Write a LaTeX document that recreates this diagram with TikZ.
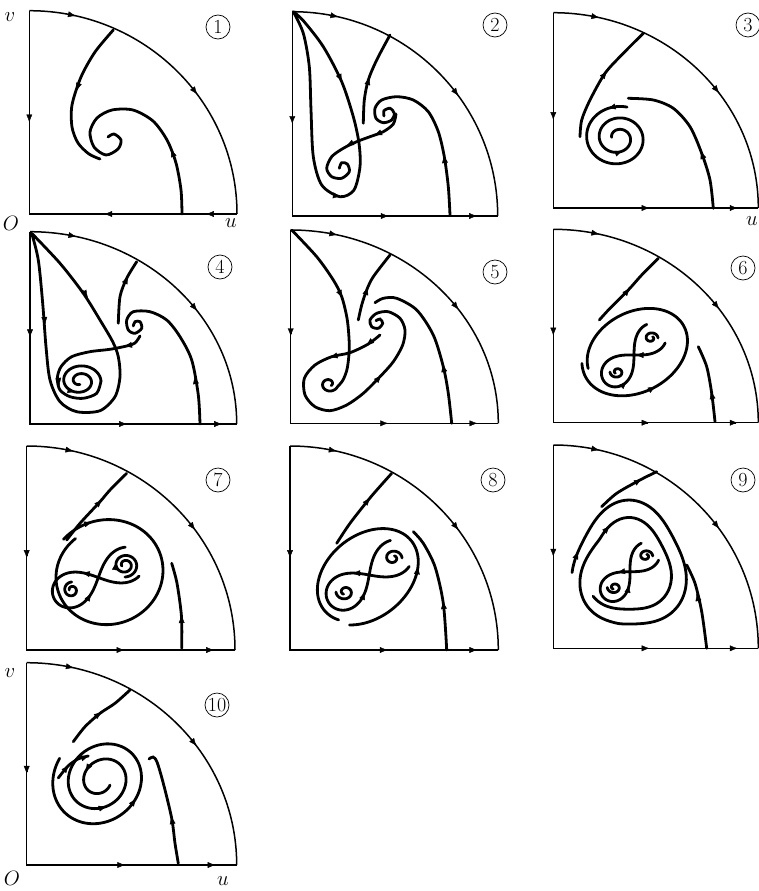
\documentclass[tikz,border=0pt]{standalone}
\usepackage{tikz}
\usetikzlibrary{arrows.meta}
\tikzset{
  frame/.style={line width=1.5pt},
  traj/.style={line width=2.8pt, line cap=round},
  tip/.style={-{Latex[length=8pt,width=6pt]}, line width=0.4pt},
  panelno/.style={circle, draw, line width=0.7pt, inner sep=0pt, minimum size=24pt,
      font=\fontsize{20}{20}\selectfont},
  axlabel/.style={inner sep=0pt, font=\fontsize{21}{21}\selectfont},
}
% frame of one quadrant: corner O=(#1,#2), width #3, height #4,
% bottom arrows in direction #5 at fractions #6 and #7
\newcommand{\quadrant}[7]{%
  \draw[frame] (#1,#2-#4) -- (#1,#2) -- ({#1+#3},#2);
  \draw[frame] (#1,#2-#4) arc[start angle=90, end angle=0, x radius=#3pt, y radius=#4pt];
  \draw[tip] (#1,{#2-0.45*#4-2}) -- (#1,{#2-0.45*#4});
  \draw[tip] ({#1+#6*#3-2*#5},#2) -- ({#1+#6*#3},#2);
  \draw[tip] ({#1+#7*#3-2*#5},#2) -- ({#1+#7*#3},#2);
  \draw[tip] ({#1+#3*cos(79)},{#2-#4*sin(79)}) -- ({#1+#3*cos(77)},{#2-#4*sin(77)});
  \draw[tip] ({#1+#3*cos(38)},{#2-#4*sin(38)}) -- ({#1+#3*cos(36)},{#2-#4*sin(36)});
}
% spiral: centre #1, radii #2 #3, tilt #4, r from #5 to #6, angle from #7 to #8
\newcommand{\setspiral}[8]{%
  \def\spO{#1}%
  \pgfmathsetmacro{\spc}{cos(#4)}\pgfmathsetmacro{\sps}{sin(#4)}%
  \pgfmathsetmacro{\spR}{#5}\pgfmathsetmacro{\spD}{(#6)-(#5)}%
  \pgfmathsetmacro{\spA}{#7}\pgfmathsetmacro{\spB}{(#8)-(#7)}%
  \def\curvex##1{((\spR+\spD*(##1))*(#2*cos(\spA+\spB*(##1))*\spc+#3*sin(\spA+\spB*(##1))*\sps))}%
  \def\curvey##1{((\spR+\spD*(##1))*(#3*sin(\spA+\spB*(##1))*\spc-#2*cos(\spA+\spB*(##1))*\sps))}}
% figure eight: centre #1, size #2, tilt #3
\newcommand{\setlemni}[3]{%
  \def\spO{#1}%
  \pgfmathsetmacro{\spc}{cos(#3)}\pgfmathsetmacro{\sps}{sin(#3)}%
  \def\curvex##1{(#2*(cos(25+310*(##1))*\spc+sin(25+310*(##1))*cos(25+310*(##1))*\sps)/(1+sin(25+310*(##1))*sin(25+310*(##1))))}%
  \def\curvey##1{(#2*(sin(25+310*(##1))*cos(25+310*(##1))*\spc-cos(25+310*(##1))*\sps)/(1+sin(25+310*(##1))*sin(25+310*(##1))))}}
\newcommand{\drawcurve}{%
  \begin{scope}[shift={(\spO)}]
  \draw[traj] plot[variable=\s, domain=0:1, samples=150, smooth] ({\curvex{\s}},{\curvey{\s}});
  \end{scope}}
\newcommand{\curvearrow}[1]{%
  \begin{scope}[shift={(\spO)}]
  \draw[tip] ({\curvex{#1-0.012}},{\curvey{#1-0.012}}) -- ({\curvex{#1}},{\curvey{#1}});
  \end{scope}}

\begin{document}
\begin{tikzpicture}[x=1pt, y=-1pt]
  \useasboundingbox (0,0) rectangle (759,891);
  \fill[white] (0,0) rectangle (759,891);

  % axis labels
  \node[axlabel] (v1) at (10,17) {$v$};
  \node[axlabel] (o1) at (11,223) {$O$};
  \node[axlabel] (u1) at (231,223) {$u$};
  \node[axlabel] (u3) at (752,221) {$u$};
  \node[axlabel] (v10) at (10,673) {$v$};
  \node[axlabel] (o10) at (12,878) {$O$};
  \node[axlabel] (u10) at (223,881) {$u$};

  % panel numbers
  \node[panelno] (n1) at (218,27) {1};
  \node[panelno] (n2) at (495,25) {2};
  \node[panelno] (n3) at (748,25) {3};
  \node[panelno] (n4) at (220,267) {4};
  \node[panelno] (n5) at (495,272) {5};
  \node[panelno] (n6) at (743,268) {6};
  \node[panelno] (n7) at (218,480) {7};
  \node[panelno] (n8) at (493,480) {8};
  \node[panelno] (n9) at (743,480) {9};
  \node[panelno] (n10) at (217,705) {10};

  % ---- panel 1
  \quadrant{29.3}{214}{207.7}{203.3}{-1}{0.36}{0.85}
  \draw[traj] plot[smooth] coordinates {(113.3,30) (95,52) (81,77) (72,105) (72,127) (78,143) (89,154) (100,159)};
  \draw[tip] (79,83) -- (76.5,91);
  \draw[traj] plot[smooth] coordinates {(182,214) (181,190) (176,163) (167,140) (153,121) (133,110) (112,110) (97,118) (90,132) (94,147) (106,155) (118,149) (121,140) (114,134) (108,137)};
  \draw[tip] (174,157) -- (171,149);

  % ---- panel 2
  \quadrant{292.3}{216}{205.4}{204.3}{1}{0.47}{0.9}
  \draw[traj] plot[smooth] coordinates {(293.3,11.7) (303.3,33.3) (309.3,66.7) (311,110) (313.3,156.7) (321.7,185) (340,196.7) (354,190) (360,166.7) (359,143.3) (353.3,116.7) (341.7,81.7) (323.3,46.7) (303.3,20.7) (293.3,11.7)};
  \draw[tip] (334,195.5) -- (341,196.5);
  \draw[tip] (337,71) -- (342,82);
  \draw[traj] plot[smooth] coordinates {(390,35) (376.7,60) (368.3,80) (364.3,100) (363.3,123.3)};
  \draw[tip] (367,86) -- (369.5,77);
  \draw[traj] plot[smooth] coordinates {(450,215) (448.3,186.7) (444.3,156.7) (438.3,131.7) (428.3,111.7) (413.3,100) (396.7,96.7) (381.7,100) (375,108.3) (376,118.3) (383.3,122.7) (391.7,120) (394.3,113.3) (390,108.3) (384,110.7) (384,116)};
  \draw[tip] (445,163) -- (443.8,155);
  \draw[traj] plot[smooth] coordinates {(396,114) (393.3,124) (383.3,131.7) (370,136.7) (356.7,141.7) (343.3,148.3) (331.7,156.7) (326.7,168.3) (331.7,176.7) (341.7,178.3) (349.3,171.7) (347.3,164) (341.7,162.7) (339.3,168.3)};
  \draw[tip] (382,132) -- (374,135.5);
  \draw[tip] (353,142.5) -- (346,146);

  % ---- panel 3
  \quadrant{553.3}{208}{205}{195.3}{1}{0.47}{0.9}
  \draw[traj] plot[smooth] coordinates {(643.3,33.3) (623.3,53.3) (605,73.3) (590,100) (581.7,120) (580,136.7)};
  \draw[tip] (601,79) -- (607,71);
  \draw[traj] plot[smooth] coordinates {(713.3,208.3) (710,180) (701.7,153.3) (690,126.7) (673.3,108.3) (653.3,100) (628.3,98.3)};
  \draw[tip] (704,160) -- (700.5,151);
  \setspiral{618,138}{35}{32}{0}{1}{0.18}{285}{-535}
  \drawcurve \curvearrow{0.04} \curvearrow{0.7}

  % ---- panel 4
  \quadrant{30}{424}{206.7}{192.3}{1}{0.47}{0.93}
  \draw[traj] plot[smooth] coordinates {(31.7,233.3) (38.3,260) (42.7,303.3) (46,346.7) (50,380) (60,401.7) (76.7,411.7) (100,410.7) (115,396.7) (120,376.7) (118.3,356.7) (112.7,341.7) (100,320) (83.3,293.3) (60,263.3) (31.7,233.3)};
  \draw[tip] (44.3,317) -- (45,325);
  \draw[tip] (83,290) -- (88,298);
  \draw[traj] plot[smooth] coordinates {(136.7,261.7) (126.7,278.3) (120,296.7) (118.3,323.3)};
  \draw[tip] (124,285) -- (128,276);
  \draw[traj] plot[smooth] coordinates {(200,424) (198.3,395) (191.7,360) (180,336.7) (166.7,320) (150,311.7) (133.3,311.7) (126.7,320) (128.3,330) (135,333.3) (141.7,328.3) (140,321.7) (135,321.7) (133.3,326)};
  \draw[tip] (196,384) -- (194.5,376);
  \draw[traj] plot[smooth] coordinates {(140,336) (135,343) (126.7,346) (110,349.3) (90,351.7) (71.7,356.7) (61,366.7) (57.3,378.3) (60,390) (70,396.7) (83.3,398.3) (96.7,393.3) (101,381)};
  \draw[tip] (131,345) -- (124,346.5);
  \draw[tip] (58,377) -- (59.5,386);
  \setspiral{80,381}{21}{17}{0}{1}{0.2}{0}{-630}
  \drawcurve \curvearrow{0.4}

  % ---- panel 5
  \quadrant{290.7}{423.3}{207.6}{193.3}{1}{0.47}{0.9}
  \draw[traj] plot[smooth] coordinates {(291.7,230) (316.7,256.7) (333.3,280) (341.7,296.7) (347.3,320) (349.3,346.7) (347.3,368) (343,380) (337.5,386.7)};
  \draw[tip] (338,289) -- (342.5,298);
  \setspiral{329,384}{9}{8}{0}{1}{0.3}{20}{400}
  \drawcurve
  \draw[traj] plot[smooth] coordinates {(380,335) (368.3,344) (350,352.7) (331.7,356.7) (315,365) (304.3,378.3) (305,395) (315,406.7) (330,410.7) (346.7,405) (363.3,393.3) (380,376.7) (393.3,361.7) (402.7,345) (405,330) (400,318.3) (388.3,311.7) (376.7,313.3) (370,320) (371.7,326.7) (378.3,328.3) (382.7,323.3) (380,319) (376,320.7)};
  \draw[tip] (373,340) -- (366,345.5);
  \draw[tip] (337,355.5) -- (329.5,357.5);
  \draw[tip] (373.5,384) -- (381.5,375);
  \draw[traj] plot[smooth] coordinates {(390,255) (373.3,276.7) (366.7,290) (361.7,305) (358.3,320)};
  \draw[tip] (364.5,297) -- (368,287);
  \draw[traj] plot[smooth] coordinates {(451.7,423.3) (448.3,393.3) (443.3,366.7) (433.3,335) (416.7,310) (396.7,298.3) (383.3,298.3) (375,302.7)};
  \draw[tip] (445,375) -- (442.5,364);

  % ---- panel 6
  \quadrant{553.3}{422.7}{205}{193.4}{1}{0.47}{0.9}
  \draw[traj] plot[smooth] coordinates {(658.3,258.3) (641.7,275) (628.3,290) (610,308.3) (599.3,320)};
  \draw[tip] (624,295) -- (630,288);
  \draw[traj] plot[smooth] coordinates {(715,421.7) (711.7,393.3) (706.7,366.7) (698.3,346.7)};
  \draw[tip] (713,401) -- (711,391);
  \setspiral{636,351}{57}{42}{28}{1}{0.9}{200}{-170}
  \drawcurve \curvearrow{0.3}
  \setlemni{634,355}{40}{44}
  \drawcurve \curvearrow{0.2} \curvearrow{0.62}
  \setspiral{651,338}{7}{6}{0}{1}{0.3}{0}{-400}
  \drawcurve
  \setspiral{617,372}{7}{6}{0}{1}{0.3}{180}{-220}
  \drawcurve

  % ---- panel 7
  \quadrant{26.7}{650}{208.3}{204}{1}{0.47}{0.9}
  \draw[traj] plot[smooth] coordinates {(126.7,473.3) (110,490) (100,501.7) (80,523.3) (66.7,540)};
  \draw[tip] (96,506) -- (102,499.5);
  \draw[traj] plot[smooth] coordinates {(181.7,648.3) (181.5,616.7) (177,583.3) (171.7,563.3)};
  \draw[tip] (181.7,624) -- (181.4,615);
  \setspiral{107.5,574}{59}{55}{20}{1}{0.86}{240}{610}
  \drawcurve \curvearrow{0.09}
  \setlemni{98.3,577.5}{49}{25}
  \drawcurve \curvearrow{0.3} \curvearrow{0.7}
  \setspiral{125,565}{13}{12}{0}{1}{0.25}{90}{-560}
  \drawcurve \curvearrow{0.5}
  \setspiral{71.7,590}{8}{8}{0}{1}{0.3}{270}{-180}
  \drawcurve

  % ---- panel 8
  \quadrant{290}{650}{208.3}{204}{1}{0.47}{0.9}
  \draw[traj] plot[smooth] coordinates {(391.7,473.3) (378.3,488.3) (368.3,500) (350,523.3) (336.7,543.3)};
  \draw[tip] (364,505.5) -- (370,497.5);
  \draw[traj] plot[smooth] coordinates {(446.7,650) (443.3,603.3) (435,566.7) (423.3,543.3) (413.3,531.7)};
  \draw[tip] (444.3,612) -- (443,601);
  \setspiral{367,576}{58}{42}{39}{1}{0.94}{140}{-205}
  \drawcurve \curvearrow{0.3}
  \setlemni{369.2,575}{49}{35}
  \drawcurve \curvearrow{0.3} \curvearrow{0.7}
  \setspiral{393,558}{9}{8}{0}{1}{0.3}{0}{-420}
  \drawcurve
  \setspiral{345,592}{9}{8}{0}{1}{0.3}{180}{-240}
  \drawcurve

  % ---- panel 9
  \quadrant{553.3}{648.3}{205}{203.3}{1}{0.47}{0.9}
  \draw[traj] plot[smooth] coordinates {(656.7,471.7) (640,480) (616.7,493.3) (601.7,506.7)};
  \draw[tip] (634,483.5) -- (642,479);
  \draw[traj] plot[smooth] coordinates {(706.7,648.3) (701.7,611.7) (695,583.3) (686.7,565)};
  \draw[tip] (699,603) -- (696.5,593);
  \def\spO{629,567}%
  \def\curvex#1{((1-0.26*min(max(5.75*(#1)-2.375,0),1))*(1+0.08*cos(3*(175+690*(#1))-810))*56*cos(175+690*(#1)))}%
  \def\curvey#1{((1-0.26*min(max(5.75*(#1)-2.375,0),1))*(1+0.08*cos(3*(175+690*(#1))-810))*62*sin(175+690*(#1)))}%
  \drawcurve \curvearrow{0.03} \curvearrow{0.62}
  \setlemni{630,571.7}{37}{45}
  \drawcurve \curvearrow{0.3} \curvearrow{0.7}
  \setspiral{645.7,556}{7}{6}{0}{1}{0.3}{0}{-420}
  \drawcurve
  \setspiral{614.3,587.4}{7}{6}{0}{1}{0.3}{180}{-240}
  \drawcurve

  % ---- panel 10
  \quadrant{26.7}{865}{210}{202.3}{1}{0.47}{0.9}
  \draw[traj] plot[smooth] coordinates {(130,690) (115,703.3) (100,713.3) (85,726.7) (73.3,741.7)};
  \draw[tip] (95,717) -- (102,712);
  \draw[traj] plot[smooth] coordinates {(178.3,863.3) (175,843.3) (171.7,818.3) (163.3,783.3) (157,762) (153,757) (149,759)};
  \draw[tip] (173,826) -- (171.3,816);
  \setspiral{101,780}{52}{46}{40}{1}{0.22}{250}{-650}
  \drawcurve \curvearrow{0.2} \curvearrow{0.55} \curvearrow{0.8}
  \draw[traj] plot[smooth] coordinates {(58.3,778) (68,766) (78,759) (88.3,756)};
  \draw[tip] (64,771) -- (69,765);
  \draw[tip] (84,757.5) -- (89,755.8);
\end{tikzpicture}
\end{document}
